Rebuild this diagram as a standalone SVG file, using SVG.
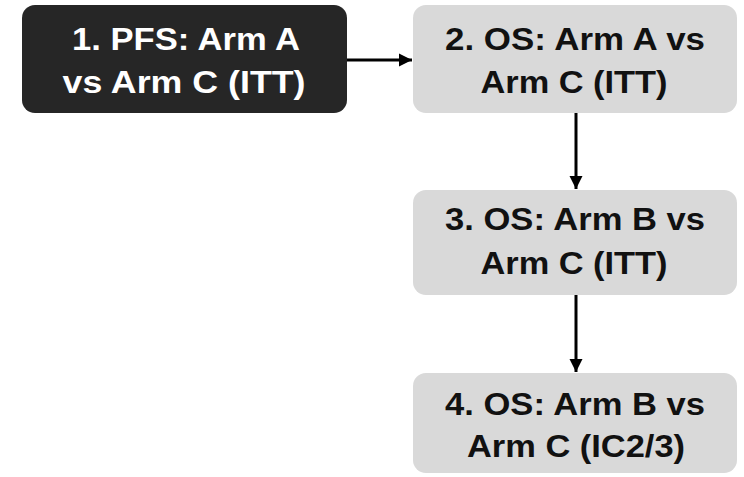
<svg xmlns="http://www.w3.org/2000/svg" width="744" height="477" viewBox="0 0 744 477">
<style>
.box-dark{fill:#262626}
.box-light{fill:#d9d9d9}
.t{font-family:"Liberation Sans",Arial,sans-serif;font-weight:bold;font-size:31px;text-anchor:middle}
.tw{fill:#ffffff}
.tb{fill:#111111}
.conn{stroke:#000;stroke-width:3;fill:none;marker-end:url(#ah)}
</style>
<defs>
<marker id="ah" viewBox="0 0 10 10" refX="10" refY="5" markerWidth="4.5" markerHeight="4.5" markerUnits="strokeWidth" orient="auto">
<path d="M0,0 L10,5 L0,10 z" fill="#000"/>
</marker>
</defs>
<rect width="744" height="477" fill="#ffffff"/>
<g id="connectors">
<line class="conn" x1="346" y1="60" x2="412" y2="60"/>
<line class="conn" x1="576" y1="113" x2="576" y2="189"/>
<line class="conn" x1="576" y1="295" x2="576" y2="372"/>
</g>
<g id="node1">
<rect class="box-dark" x="22" y="5" width="325" height="108" rx="13"/>
<text class="t tw" x="186" y="50" textLength="228" lengthAdjust="spacingAndGlyphs">1. PFS: Arm A</text>
<text class="t tw" x="184" y="93" textLength="243" lengthAdjust="spacingAndGlyphs">vs Arm C (ITT)</text>
</g>
<g id="node2">
<rect class="box-light" x="413" y="5" width="324" height="108" rx="13"/>
<text class="t tb" x="575" y="50" textLength="260" lengthAdjust="spacingAndGlyphs">2. OS: Arm A vs</text>
<text class="t tb" x="574" y="93" textLength="187" lengthAdjust="spacingAndGlyphs">Arm C (ITT)</text>
</g>
<g id="node3">
<rect class="box-light" x="413" y="190" width="324" height="105" rx="13"/>
<text class="t tb" x="575" y="230" textLength="260" lengthAdjust="spacingAndGlyphs">3. OS: Arm B vs</text>
<text class="t tb" x="574" y="274" textLength="187" lengthAdjust="spacingAndGlyphs">Arm C (ITT)</text>
</g>
<g id="node4">
<rect class="box-light" x="413" y="373" width="324" height="100" rx="13"/>
<text class="t tb" x="575" y="415" textLength="260" lengthAdjust="spacingAndGlyphs">4. OS: Arm B vs</text>
<text class="t tb" x="576" y="457" textLength="218" lengthAdjust="spacingAndGlyphs">Arm C (IC2/3)</text>
</g>
</svg>
